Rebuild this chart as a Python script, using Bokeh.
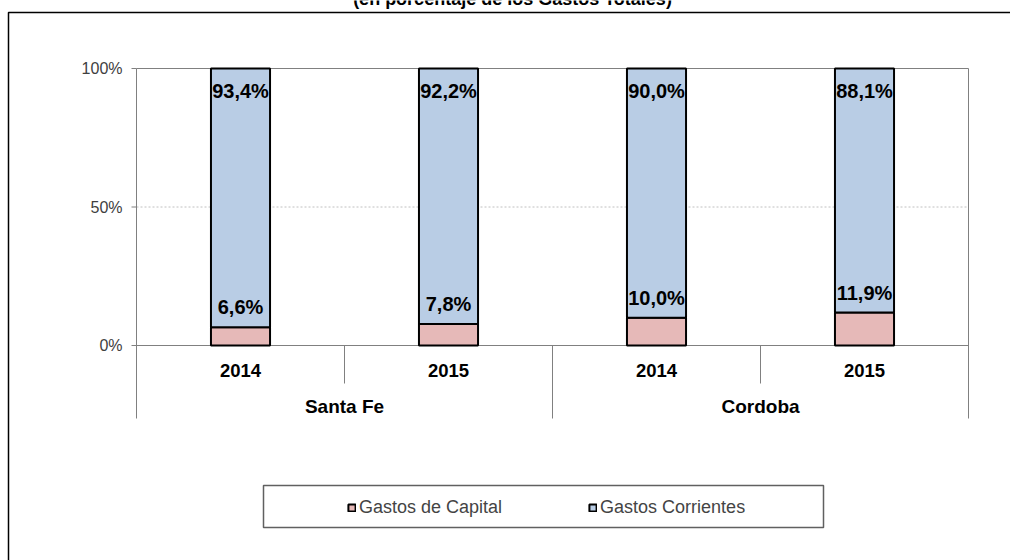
from bokeh.plotting import figure
from bokeh.models import (Range1d, BoxAnnotation, Legend, LegendItem, ColumnDataSource)
from bokeh.core.properties import value
from bokeh.embed import file_html
from bokeh.resources import INLINE

# ---------------- data ----------------
provinces = ["Santa Fe", "Cordoba"]
years = ["2014", "2015", "2014", "2015"]
gastos_capital = [6.6, 7.8, 10.0, 11.9]
gastos_corrientes = [93.4, 92.2, 90.0, 88.1]
series_names = ["Gastos de Capital", "Gastos Corrientes"]
y_ticks = [0, 50, 100]
y_tick_labels = ["0%", "50%", "100%"]
title_text = "(en porcentaje de los Gastos Totales)"

# ---------------- layout helpers (pixel -> data) ----------------
W, H = 1010, 560
FR_L, FR_R, Y_ZERO, Y_FULL, AX_BOT = 136, 968, 345, 68, 418
N = len(years)
def dx(px):
    return (px - FR_L) * N / (FR_R - FR_L)
def dy(py):
    return (Y_ZERO - py) * 100.0 / (Y_ZERO - Y_FULL)

FONT = "Liberation Sans"
GREY = "#808080"
PINK = "#E6B9B8"
BLUE = "#B9CDE5"

def fmt(v):
    return f"{v:.1f}".replace(".", ",") + "%"

xs = [i + 0.5 for i in range(N)]
src = ColumnDataSource(dict(
    x=xs, year=years, cap=gastos_capital, cor=gastos_corrientes,
    cap_lbl=[fmt(v) for v in gastos_capital],
    cor_lbl=[fmt(v) for v in gastos_corrientes],
))

p = figure(width=W, height=H, output_backend="svg", toolbar_location=None,
           x_range=Range1d(dx(0), dx(W)), y_range=Range1d(dy(H), dy(0)),
           x_axis_type=None, y_axis_type=None,
           min_border_left=0, min_border_right=0, min_border_top=0, min_border_bottom=0)
p.outline_line_color = None
p.background_fill_color = "white"
p.border_fill_color = "white"

x_ax = 0
x_right = N
y_bot = dy(AX_BOT)

# outer chart border
p.add_layout(BoxAnnotation(left=dx(8), right=dx(W + 40), top=dy(12), bottom=dy(H + 40),
                           fill_alpha=0, line_color="black", line_width=1.5, line_alpha=1))

# 50% gridline
p.segment(x0=[x_ax], y0=[50], x1=[x_right], y1=[50], line_color="#c0c0c0",
          line_width=1, line_dash="2 2")

# y axis: line, ticks, labels
tick_len = N * 5 / (FR_R - FR_L)
p.segment(x0=[x_ax], y0=[y_bot], x1=[x_ax], y1=[100], line_color=GREY, line_width=1)
p.segment(x0=[x_ax - tick_len] * len(y_ticks), y0=y_ticks, x1=[x_ax] * len(y_ticks),
          y1=y_ticks, line_color=GREY, line_width=1)
p.text(x=[dx(122)] * len(y_ticks), y=y_ticks, text=y_tick_labels, text_align="right",
       text_baseline="middle", text_font=value(FONT), text_font_size="16px",
       text_color="#404040")

# plot area border top/right, zero line
p.segment(x0=[x_ax, x_right, x_ax], y0=[100, 100, 0], x1=[x_right, x_right, x_right],
          y1=[100, y_bot, 0], line_color=GREY, line_width=1)

# bars
rs = p.vbar_stack(["cap", "cor"], x="x", width=0.284, source=src,
                  fill_color=[PINK, BLUE], line_color="black", line_width=2)

# value labels
p.text(x="x", y=100, text="cor_lbl", source=src, text_align="center",
       text_baseline="middle", y_offset=22, text_font=value(FONT),
       text_font_style="bold", text_font_size="20px", text_color="black")
p.text(x="x", y="cap", text="cap_lbl", source=src, text_align="center",
       text_baseline="middle", y_offset=-20, text_font=value(FONT),
       text_font_style="bold", text_font_size="20px", text_color="black")

# category axis: separators and labels
sep_x = [1, 2, 3]
sep_y1 = [dy(383), y_bot, dy(383)]
p.segment(x0=sep_x, y0=[0, 0, 0], x1=sep_x, y1=sep_y1, line_color=GREY, line_width=1)
p.text(x="x", y=dy(370), text="year", source=src, text_align="center",
       text_baseline="middle", text_font=value(FONT), text_font_style="bold",
       text_font_size="18.5px", text_color="black")
p.text(x=[1, 3], y=[dy(406)] * 2, text=provinces, text_align="center",
       text_baseline="middle", text_font=value(FONT), text_font_style="bold",
       text_font_size="19px", text_color="black")

# legend box
p.add_layout(BoxAnnotation(left=dx(263), right=dx(823), top=dy(485), bottom=dy(527),
                           fill_alpha=0, line_color="#606060", line_width=1.5, line_alpha=1))

legend = Legend(items=[LegendItem(label=series_names[0], renderers=[rs[0]]),
                       LegendItem(label=series_names[1], renderers=[rs[1]])],
                orientation="horizontal", location=(347, H - 518),
                border_line_color=None, background_fill_alpha=0,
                padding=0, margin=0, spacing=86, glyph_width=9, glyph_height=9,
                label_standoff=3, label_text_font=FONT, label_text_font_size="18px",
                label_height=9)
p.add_layout(legend)

# title (cut off at top, as in the reference)
p.text(x=[dx(512)], y=[dy(8)], text=[title_text], text_align="center",
       text_baseline="bottom", text_font=value(FONT), text_font_style="bold",
       text_font_size="18px", text_color="black")

open("out.html", "w").write(file_html(p, INLINE))
